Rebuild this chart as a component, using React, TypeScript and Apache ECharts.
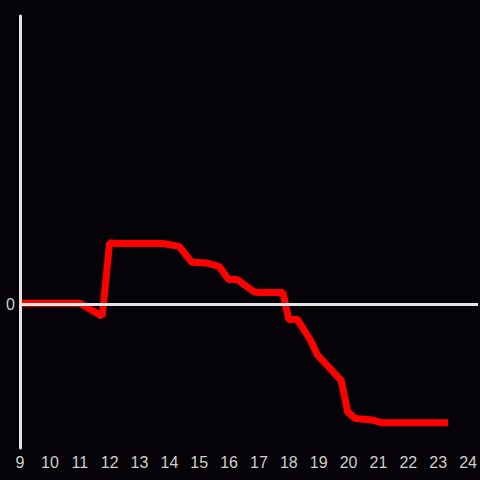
import React, { useEffect, useRef } from "react";
import * as echarts from "echarts";

const hours = [9, 11.0, 11.75, 12.0, 12.2, 13.77, 14.33, 14.75, 15.23, 15.67, 15.98, 16.27, 16.83, 17.0, 17.8, 18.0, 18.28, 18.72, 18.96, 19.75, 19.97, 20.22, 20.78, 21.11, 23.33];
const values = [0.005, 0.005, -0.085, 0.425, 0.42, 0.42, 0.4, 0.29, 0.285, 0.26, 0.17, 0.17, 0.085, 0.08, 0.08, -0.11, -0.105, -0.25, -0.355, -0.53, -0.75, -0.795, -0.805, -0.825, -0.825];

export default function App() {
  const ref = useRef<HTMLDivElement>(null);
  useEffect(() => {
    const chart = echarts.init(ref.current!, null, { renderer: "svg" });
    const axisColor = "#e4e4e4";
    const labelColor = "#cfcfcf";
    const font = "Liberation Sans, Arial, sans-serif";
    chart.setOption({
      animation: false,
      backgroundColor: "#050307",
      grid: { left: 20, right: 0, top: 16, bottom: 32 },
      xAxis: {
        type: "value",
        min: 9,
        max: 24 + 1 / 3,
        interval: 1,
        axisLine: { show: false, onZero: false },
        axisTick: { show: false },
        splitLine: { show: false },
        axisLabel: {
          color: labelColor,
          fontSize: 16,
          fontFamily: font,
          margin: 6,
          showMaxLabel: false,
          formatter: (v: number) => (Number.isInteger(v) ? String(v) : ""),
        },
      },
      yAxis: {
        type: "value",
        min: -1,
        max: 2,
        interval: 1,
        z: 5,
        axisLine: { show: true, lineStyle: { color: axisColor, width: 3 } },
        axisTick: { show: false },
        splitLine: { show: false },
        axisLabel: {
          color: labelColor,
          fontSize: 16,
          fontFamily: font,
          margin: 5,
          formatter: (v: number) => (v === 0 ? "0" : ""),
        },
      },
      series: [
        {
          type: "line",
          data: [],
          z: 1,
          silent: true,
          markLine: {
            silent: true,
            symbol: "none",
            label: { show: false },
            lineStyle: { color: axisColor, width: 3, type: "solid" },
            data: [{ yAxis: 0 }],
          },
        },
        {
          type: "line",
          z: 3,
          data: hours.map((h, i) => [h, values[i]]),
          showSymbol: false,
          symbol: "none",
          lineStyle: { color: "#ff0000", width: 7 },
        },
      ],
    });
    return () => chart.dispose();
  }, []);
  return (
    <div
      ref={ref}
      style={{ position: "fixed", left: 0, top: 0, width: 480, height: 480 }}
    />
  );
}
